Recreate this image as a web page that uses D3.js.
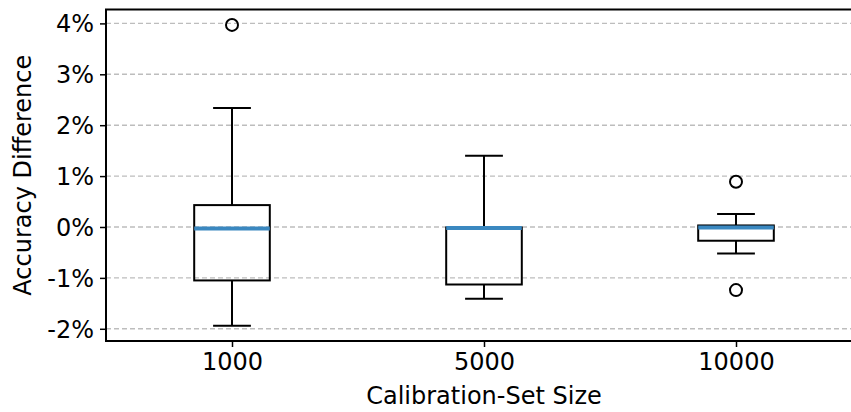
<!DOCTYPE html>
<html>
<head>
<meta charset="utf-8">
<script src="https://cdn.jsdelivr.net/npm/d3@7"></script>
<style>
  html, body { margin: 0; padding: 0; background: #fff; overflow: hidden; }
  svg { display: block; font-family: "DejaVu Sans", sans-serif; }
</style>
</head>
<body>
<svg id="chart" width="851" height="412"></svg>
<script>
// ---- data (values in percent) ----
const categories = ["1000", "5000", "10000"];
const whiskerLow  = [-1.94, -1.41, -0.52];
const q1          = [-1.05, -1.13, -0.27];
const medians     = [-0.03, -0.02, -0.01];
const q3          = [0.43, -0.01, 0.03];
const whiskerHigh = [2.34, 1.40, 0.255];
const outliers    = [[3.97], [], [0.89, -1.24]];
const yTicks      = [-2, -1, 0, 1, 2, 3, 4];
const xLabel = "Calibration-Set Size";
const yLabel = "Accuracy Difference";

const svg = d3.select("#chart");
const mLeft = 106, mRight = 862, mTop = 9.5, mBottom = 341;

const x = d3.scaleLinear().domain([0.5, 3.5]).range([mLeft, mRight]);
const y = d3.scaleLinear().domain([-2.24, 4.273]).range([mBottom, mTop]);

// grid
svg.append("g").selectAll("line").data(yTicks).join("line")
  .attr("x1", mLeft).attr("x2", mRight)
  .attr("y1", d => y(d)).attr("y2", d => y(d))
  .attr("stroke", "#bdbdbd").attr("stroke-width", 1.4)
  .attr("stroke-dasharray", "5,3");

const boxW = 0.3, capW = 0.15;
const data = categories.map((c, i) => ({
  pos: i + 1, lo: whiskerLow[i], q1: q1[i], med: medians[i],
  q3: q3[i], hi: whiskerHigh[i], out: outliers[i]
}));

const g = svg.append("g");
data.forEach(d => {
  const cx = x(d.pos);
  const bw = x(d.pos + boxW / 2) - cx;
  const cw = x(d.pos + capW / 2) - cx;
  g.append("line").attr("x1", cx).attr("x2", cx).attr("y1", y(d.q3)).attr("y2", y(d.hi))
    .attr("stroke", "#000").attr("stroke-width", 2);
  g.append("line").attr("x1", cx).attr("x2", cx).attr("y1", y(d.q1)).attr("y2", y(d.lo))
    .attr("stroke", "#000").attr("stroke-width", 2);
  [d.hi, d.lo].forEach(v => {
    g.append("line").attr("x1", cx - cw).attr("x2", cx + cw).attr("y1", y(v)).attr("y2", y(v))
      .attr("stroke", "#000").attr("stroke-width", 2);
  });
  g.append("rect").attr("x", cx - bw).attr("width", 2 * bw)
    .attr("y", y(d.q3)).attr("height", y(d.q1) - y(d.q3))
    .attr("fill", "none").attr("stroke", "#000").attr("stroke-width", 2);
  g.append("line").attr("x1", cx - bw).attr("x2", cx + bw).attr("y1", y(d.med)).attr("y2", y(d.med))
    .attr("stroke", "#3a88c0").attr("stroke-width", 4);
  d.out.forEach(v => {
    g.append("circle").attr("cx", cx).attr("cy", y(v)).attr("r", 6)
      .attr("fill", "none").attr("stroke", "#000").attr("stroke-width", 2);
  });
});

// axes
const yAxis = d3.axisLeft(y).tickValues(yTicks).tickSize(6).tickPadding(6)
  .tickFormat(d => d + "%");
const gy = svg.append("g").attr("transform", `translate(${mLeft},0)`).call(yAxis);
gy.select(".domain").remove();
gy.selectAll(".tick line").attr("stroke", "#000").attr("stroke-width", 1.5);
gy.selectAll(".tick text").attr("font-size", 24).attr("fill", "#000")
  .attr("font-family", "DejaVu Sans").attr("dy", "0.35em");

const xAxis = d3.axisBottom(x).tickValues([1, 2, 3]).tickSize(6).tickPadding(6)
  .tickFormat((d, i) => categories[i]);
const gx = svg.append("g").attr("transform", `translate(0,${mBottom})`).call(xAxis);
gx.select(".domain").remove();
gx.selectAll(".tick line").attr("stroke", "#000").attr("stroke-width", 1.5);
gx.selectAll(".tick text").attr("font-size", 24).attr("fill", "#000")
  .attr("font-family", "DejaVu Sans").attr("dy", "0.71em");

// spines
svg.append("rect").attr("x", mLeft).attr("y", mTop).attr("width", mRight - mLeft).attr("height", mBottom - mTop)
  .attr("fill", "none").attr("stroke", "#000").attr("stroke-width", 2);

// labels
svg.append("text").attr("x", (mLeft + mRight) / 2).attr("y", 404)
  .attr("text-anchor", "middle").attr("font-size", 24).attr("fill", "#000").text(xLabel);
svg.append("text").attr("transform", `translate(31,${(mTop + mBottom) / 2}) rotate(-90)`)
  .attr("text-anchor", "middle").attr("font-size", 24).attr("fill", "#000").text(yLabel);
</script>
</body>
</html>
